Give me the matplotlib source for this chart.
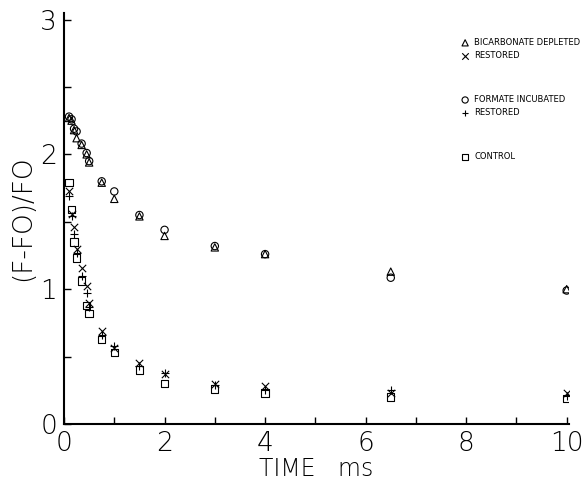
import numpy as np
import matplotlib
matplotlib.use("Agg")
import matplotlib.pyplot as plt
from matplotlib import font_manager
from matplotlib.ticker import MultipleLocator

# time points (ms)
t = [0.1, 0.15, 0.2, 0.25, 0.35, 0.45, 0.5, 0.75, 1.0, 1.5, 2.0, 3.0, 4.0, 6.5, 10.0]

bicarb_depleted = [2.27, 2.25, 2.18, 2.12, 2.07, 2.00, 1.94, 1.79, 1.67, 1.54, 1.395, 1.31, 1.26, 1.13, 1.00]
bicarb_restored = [1.73, 1.56, 1.46, 1.30, 1.16, 1.02, 0.90, 0.69, 0.56, 0.45, 0.37, 0.30, 0.28, 0.23, 0.23]
formate_incub = [2.28, 2.26, 2.19, 2.17, 2.08, 2.01, 1.95, 1.80, 1.725, 1.55, 1.44, 1.32, 1.26, 1.085, 0.99]
formate_restored = [1.69, 1.54, 1.41, 1.27, 1.10, 0.975, 0.87, 0.66, 0.575, 0.43, 0.38, 0.29, 0.25, 0.25, 0.21]
control = [1.79, 1.59, 1.35, 1.23, 1.06, 0.88, 0.82, 0.625, 0.53, 0.40, 0.30, 0.26, 0.23, 0.20, 0.19]

legend_labels = ["BICARBONATE DEPLETED", "RESTORED", "FORMATE INCUBATED", "RESTORED", "CONTROL"]

# a narrow face looks closer to the plotter lettering, if there is one
try:
    font_manager.findfont("Liberation Sans Narrow", fallback_to_default=False)
    leg_font, leg_size = "Liberation Sans Narrow", 7.0
except Exception:
    leg_font, leg_size = "DejaVu Sans", 6.0

fig = plt.figure(figsize=(5.82, 4.93), dpi=100)
ax = fig.add_axes([0.110, 0.140, 0.868, 0.834])

kw = dict(facecolors="none", edgecolors="black", linewidths=0.8, s=28)
ax.scatter(t, bicarb_depleted, marker="^", **kw)
ax.scatter(t, formate_incub, marker="o", **kw)
ax.scatter(t, control, marker="s", **kw)
ax.scatter(t, bicarb_restored, marker="x", color="black", linewidths=0.8, s=28)
ax.scatter(t, formate_restored, marker="+", color="black", linewidths=0.8, s=40)

ax.set_xlim(0, 10.05)
ax.set_ylim(0, 3.05)
ax.xaxis.set_major_locator(MultipleLocator(2))
ax.xaxis.set_minor_locator(MultipleLocator(1))
ax.yaxis.set_major_locator(MultipleLocator(1))
ax.yaxis.set_minor_locator(MultipleLocator(0.5))
ax.tick_params(which="both", direction="in", length=5, width=1.0, labelsize=19, pad=5)
for lab in ax.get_xticklabels() + ax.get_yticklabels():
    lab.set_fontweight("light")

for side in ("top", "right"):
    ax.spines[side].set_visible(False)
for side in ("left", "bottom"):
    ax.spines[side].set_linewidth(1.5)

ax.set_xlabel("TIME   ms", fontsize=17, fontweight="light", labelpad=1)
ax.set_ylabel("(F-FO)/FO", fontsize=19, fontweight="light", labelpad=4)

# legend drawn as marker + text in the upper right
lx, tx = 0.794, 0.812
markers = ["^", "x", "o", "+", "s"]
ys = [0.927, 0.895, 0.788, 0.757, 0.650]
for m, label, yy in zip(markers, legend_labels, ys):
    if m in ("x", "+"):
        ax.scatter([lx], [yy], transform=ax.transAxes, marker=m, color="black",
                   linewidths=0.8, s=22, clip_on=False)
    else:
        ax.scatter([lx], [yy], transform=ax.transAxes, marker=m, facecolors="none",
                   edgecolors="black", linewidths=0.8, s=20, clip_on=False)
    ax.text(tx, yy, label, transform=ax.transAxes, fontsize=leg_size,
            family=leg_font, va="center", ha="left")

fig.savefig("out.png", dpi=100)
